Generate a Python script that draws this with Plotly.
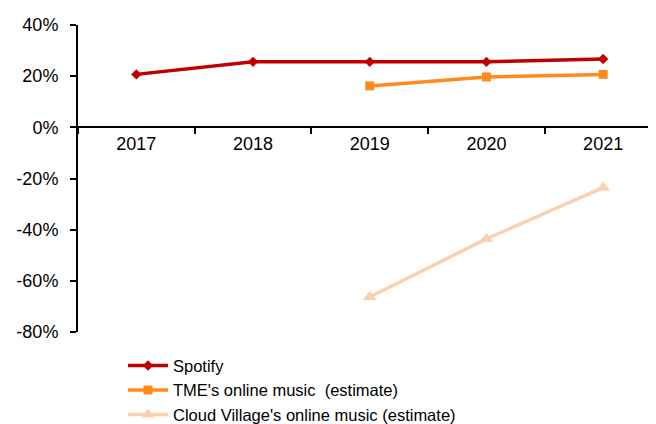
import plotly.graph_objects as go

years = ["2017", "2018", "2019", "2020", "2021"]
spotify = [20.7, 25.6, 25.6, 25.6, 26.7]
tme_years = ["2019", "2020", "2021"]
tme = [16.2, 19.7, 20.7]
cloud_years = ["2019", "2020", "2021"]
cloud = [-66.3, -43.6, -23.6]
y_ticks = [-80, -60, -40, -20, 0, 20, 40]
y_labels = [f"{v}%" for v in y_ticks]

FONT = "Liberation Sans, Arial, sans-serif"
FS = 18

fig = go.Figure()
fig.add_trace(go.Scatter(x=years, y=spotify, name="Spotify", mode="lines+markers",
                         line=dict(color="#C00000", width=3.5),
                         marker=dict(symbol="diamond", size=8, color="#C00000")))
fig.add_trace(go.Scatter(x=tme_years, y=tme, name="TME's online music  (estimate)", mode="lines+markers",
                         line=dict(color="#FF8C1A", width=3.5),
                         marker=dict(symbol="square", size=9, color="#FF8C1A")))
fig.add_trace(go.Scatter(x=cloud_years, y=cloud, name="Cloud Village's online music (estimate)", mode="lines+markers",
                         line=dict(color="#FAD0B0", width=3.5),
                         marker=dict(symbol="triangle-up", size=12, color="#FAD0B0")))

# page body has an 8px margin, so the figure is offset by (8, 8) in the window
W, H = 648, 416
top, bottom = 17, 323.7
L = 70
fig.update_layout(
    template="none",
    width=W, height=H,
    margin=dict(l=L, r=0, t=top, b=H - bottom, pad=0, autoexpand=False),
    paper_bgcolor="white", plot_bgcolor="white",
    font=dict(family=FONT, size=FS, color="black"),
    showlegend=True,
    legend=dict(x=(115 - L) / (W - L), y=-(340 - bottom) / (bottom - top),
                xanchor="left", yanchor="top", orientation="v",
                font=dict(family=FONT, size=16.5, color="black"),
                tracegroupgap=0, itemwidth=40, bgcolor="rgba(0,0,0,0)", borderwidth=0),
    xaxis=dict(type="category", categoryorder="array", categoryarray=years,
               range=[-0.5, 4.453], anchor="free", position=2/3,
               showline=True, linecolor="black", linewidth=2,
               ticks="outside", ticklen=6, tickwidth=2, tickcolor="black",
               tickson="boundaries", showgrid=False, zeroline=False, automargin=False,
               tickfont=dict(family=FONT, size=FS, color="black")),
    yaxis=dict(range=[-80, 40], tickvals=y_ticks, ticktext=y_labels,
               showline=True, linecolor="black", linewidth=2,
               ticks="outside", ticklen=6, tickwidth=2, tickcolor="black",
               showgrid=False, zeroline=False, automargin=False,
               ticklabelstandoff=8,
               tickfont=dict(family=FONT, size=FS, color="black")),
)
fig.write_html("out.html")
